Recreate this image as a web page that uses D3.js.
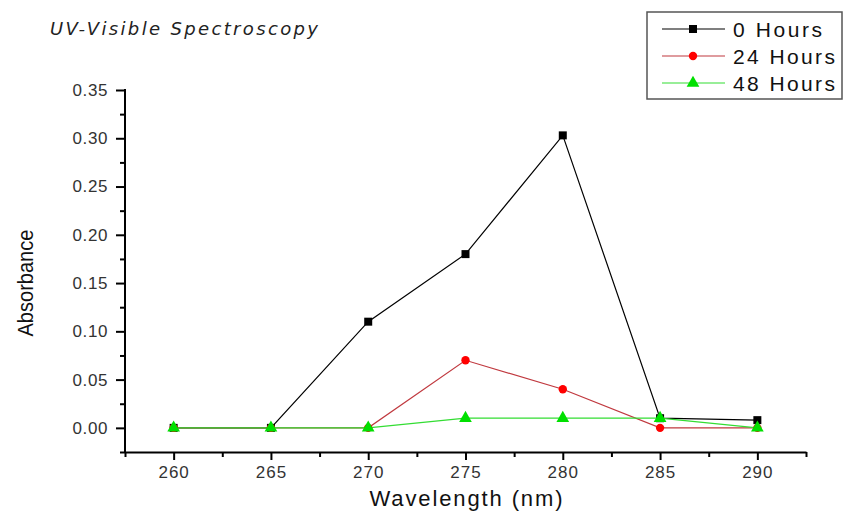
<!DOCTYPE html>
<html>
<head>
<meta charset="utf-8">
<script src="https://cdn.jsdelivr.net/npm/d3@7"></script>
<style>
  body { margin: 0; background: #fff; }
  svg { display: block; }
</style>
</head>
<body>
<div id="chart"></div>
<script>
// Data
const wavelengths = [260, 265, 270, 275, 280, 285, 290]
const hours0 = [0, 0, 0.11, 0.18, 0.303, 0.01, 0.008]
const hours24 = [0, 0, 0, 0.07, 0.04, 0, 0]
const hours48 = [0, 0, 0, 0.01, 0.01, 0.01, 0]
const seriesNames = ['0 Hours', '24 Hours', '48 Hours']
const xTicks = [260, 265, 270, 275, 280, 285, 290]
const yTicks = [0, 0.05, 0.1, 0.15, 0.2, 0.25, 0.3, 0.35]

const W = 844
const H = 511
const margin = { left: 125, right: 38, top: 88, bottom: 59 }
const sans = 'Arial, "Liberation Sans", sans-serif'

const series = [
    { name: seriesNames[0], values: hours0, line: '#000', fill: '#000', symbol: d3.symbolSquare, size: 64, legendW: 89 },
    { name: seriesNames[1], values: hours24, line: '#c0393f', fill: '#ff0000', symbol: d3.symbolCircle, size: 55, legendW: 102 },
    { name: seriesNames[2], values: hours48, line: '#33dd33', fill: '#00e000', symbol: d3.symbolTriangle, size: 70, legendW: 102 },
]

const svg = d3.select('#chart').append('svg')
    .attr('width', W)
    .attr('height', H)

const x = d3.scaleLinear()
    .domain([257.5, 292.5])
    .range([margin.left, W - margin.right])

const y = d3.scaleLinear()
    .domain([-0.025, 0.35])
    .range([H - margin.bottom, 90])

// Title
svg.append('text')
    .attr('x', 50)
    .attr('y', 35)
    .attr('textLength', 268)
    .attr('lengthAdjust', 'spacing')
    .style('font-family', '"DejaVu Sans", sans-serif')
    .style('font-style', 'italic')
    .style('font-size', '18px')
    .attr('fill', '#222')
    .text('UV-Visible Spectroscopy')

// Axes
const axisColor = '#000'
const labelColor = '#333'

const xAxis = svg.append('g')
    .attr('transform', `translate(0, ${y.range()[0]})`)
    .call(d3.axisBottom(x).tickValues(xTicks).tickSize(8).tickSizeOuter(0).tickPadding(6))
xAxis.select('.domain').attr('stroke', axisColor).attr('stroke-width', 2)
xAxis.selectAll('.tick line').attr('stroke-width', 2)
xAxis.selectAll('.tick text')
    .style('font-family', sans)
    .style('font-size', '17px')
    .style('letter-spacing', '1px')
    .attr('fill', labelColor)

// minor x ticks
svg.append('g')
    .attr('transform', `translate(0, ${y.range()[0]})`)
    .call(d3.axisBottom(x).tickValues([257.5, 262.5, 267.5, 272.5, 277.5, 282.5, 287.5, 292.5]).tickSize(5).tickSizeOuter(0).tickFormat(''))
    .call((g) => g.select('.domain').remove())
    .selectAll('.tick line').attr('stroke-width', 2)

const yAxis = svg.append('g')
    .attr('transform', `translate(${margin.left}, 0)`)
    .call(d3.axisLeft(y).tickValues(yTicks).tickFormat(d3.format('.2f')).tickSize(9).tickSizeOuter(0).tickPadding(8))
yAxis.select('.domain').attr('stroke', axisColor).attr('stroke-width', 2)
    .attr('d', `M0,${y.range()[0]}V${y.range()[1] - 1}`)
yAxis.selectAll('.tick line').attr('stroke-width', 2)
yAxis.selectAll('.tick text')
    .style('font-family', sans)
    .style('font-size', '17px')
    .style('letter-spacing', '0.6px')
    .attr('fill', labelColor)

// minor y ticks
svg.append('g')
    .attr('transform', `translate(${margin.left}, 0)`)
    .call(d3.axisLeft(y).tickValues([-0.025, 0.025, 0.075, 0.125, 0.175, 0.225, 0.275, 0.325]).tickSize(5).tickSizeOuter(0).tickFormat(''))
    .call((g) => g.select('.domain').remove())
    .selectAll('.tick line').attr('stroke-width', 2)

// Axis titles
svg.append('text')
    .attr('transform', `translate(33, ${y(0.15)}) rotate(-90)`)
    .attr('text-anchor', 'middle')
    .attr('textLength', 107)
    .attr('lengthAdjust', 'spacingAndGlyphs')
    .style('font-family', sans)
    .style('font-size', '22px')
    .attr('fill', '#111')
    .text('Absorbance')

svg.append('text')
    .attr('x', 466)
    .attr('y', 506)
    .attr('text-anchor', 'middle')
    .attr('textLength', 193)
    .attr('lengthAdjust', 'spacing')
    .style('font-family', sans)
    .style('font-size', '22px')
    .attr('fill', '#111')
    .text('Wavelength (nm)')

// Lines and markers
const line = d3.line()
    .x((d, i) => x(wavelengths[i]))
    .y((d) => y(d))

const plot = svg.append('g')
series.forEach((s) => {
    plot.append('path')
        .datum(s.values)
        .attr('d', line)
        .attr('fill', 'none')
        .attr('stroke', s.line)
        .attr('stroke-width', 1.2)
})
series.forEach((s) => {
    plot.selectAll(null)
        .data(s.values)
        .join('path')
        .attr('transform', (d, i) => `translate(${x(wavelengths[i])}, ${y(d)})`)
        .attr('d', d3.symbol().type(s.symbol).size(s.size))
        .attr('fill', s.fill)
})

// Legend
const legend = svg.append('g')
legend.append('rect')
    .attr('x', 647)
    .attr('y', 12)
    .attr('width', 195)
    .attr('height', 87)
    .attr('fill', '#fff')
    .attr('stroke', '#555')
    .attr('stroke-width', 1.5)

series.forEach((s, i) => {
    const ly = 29 + i * 27
    legend.append('line')
        .attr('x1', 662).attr('x2', 725)
        .attr('y1', ly).attr('y2', ly)
        .attr('stroke', s.line)
        .attr('stroke-width', 1.2)
    legend.append('path')
        .attr('transform', `translate(693, ${ly})`)
        .attr('d', d3.symbol().type(s.symbol).size(s.size))
        .attr('fill', s.fill)
    legend.append('text')
        .attr('x', 733)
        .attr('y', ly + 8)
        .attr('textLength', s.legendW)
        .attr('lengthAdjust', 'spacing')
        .style('font-family', sans)
        .style('font-size', '21px')
        .attr('fill', '#111')
        .text(s.name)
})
</script>
</body>
</html>
